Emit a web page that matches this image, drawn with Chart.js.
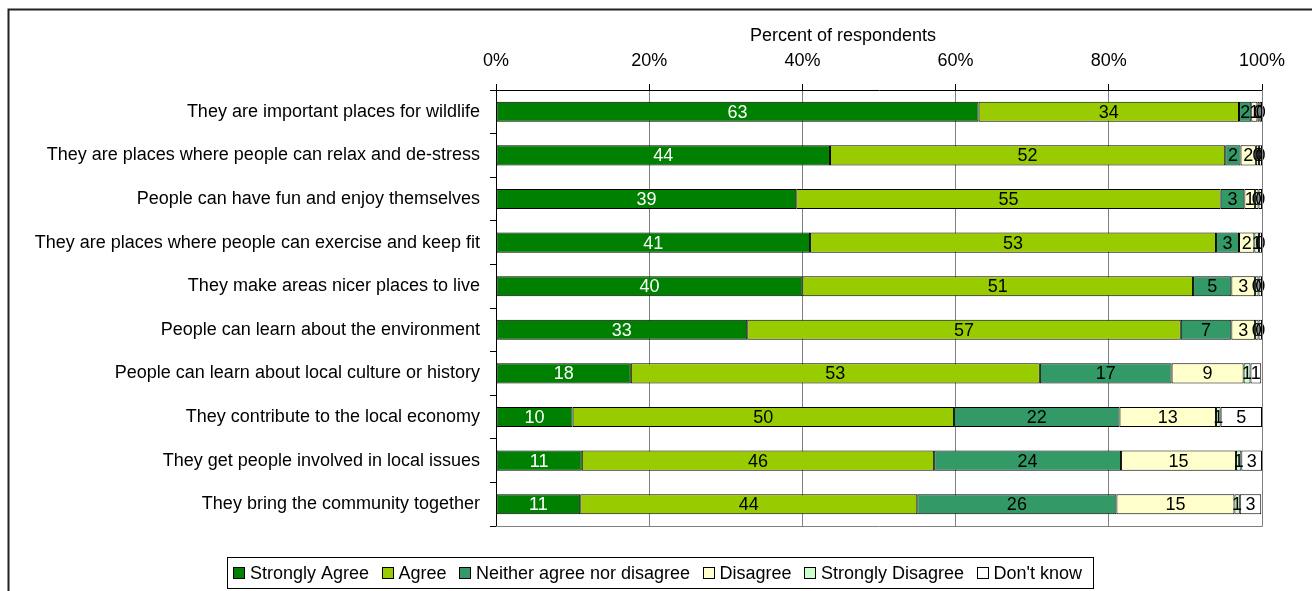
<!DOCTYPE html>
<html>
<head>
<meta charset="utf-8">
<script src="https://cdn.jsdelivr.net/npm/chart.js"></script>
<style>
  html, body { margin: 0; padding: 0; background: #fff; }
  #wrap { width: 1312px; height: 591px; }
</style>
</head>
<body>
<div id="wrap"><canvas id="chart" width="1312" height="591"></canvas></div>
<script>
// Statements (rows, top to bottom)
const statements = [
    'They are important places for wildlife',
    'They are places where people can relax and de-stress',
    'People can have fun and enjoy themselves',
    'They are places where people can exercise and keep fit',
    'They make areas nicer places to live',
    'People can learn about the environment',
    'People can learn about local culture or history',
    'They contribute to the local economy',
    'They get people involved in local issues',
    'They bring the community together'
];

// Percent of respondents per answer
const stronglyAgree    = [63, 43.6, 39.2, 41, 40, 32.8, 17.6, 10, 11.2, 11];
const agree            = [34, 51.6, 55.4, 53, 51, 56.6, 53.4, 49.8, 46, 44];
const neither          = [1.6, 2, 3.1, 3, 5, 6.6, 17.2, 21.6, 24.4, 26];
const disagree         = [0.8, 2, 1.4, 2, 3.1, 3.1, 9.4, 12.6, 15, 15.4];
const stronglyDisagree = [0.3, 0.4, 0.45, 0.6, 0.45, 0.45, 0.9, 0.6, 0.7, 0.7];
const dontKnow         = [0.3, 0.4, 0.45, 0.4, 0.45, 0.45, 1.4, 5.4, 2.7, 2.8];

const xTicks = [0, 20, 40, 60, 80, 100];
const axisTitle = 'Percent of respondents';

const FONT = 'Liberation Sans, Arial, sans-serif';
const SIZE = 18;

// Bar value labels, centred on each segment
const valueLabels = {
    id: 'valueLabels',
    afterDatasetsDraw(chart) {
        const ctx = chart.ctx;
        ctx.save();
        ctx.font = SIZE + 'px ' + FONT;
        ctx.textAlign = 'center';
        ctx.textBaseline = 'middle';
        chart.data.datasets.forEach((ds, i) => {
            const meta = chart.getDatasetMeta(i);
            ctx.fillStyle = i === 0 ? '#fff' : '#000';
            meta.data.forEach((bar, j) => {
                const x = (bar.x + bar.base) / 2;
                ctx.fillText(String(Math.round(ds.data[j])), x, bar.y + 1);
            });
        });
        ctx.restore();
    }
};

// Outer frame, axis title, plot border and the boxed legend
const frame = {
    id: 'frame',
    beforeDraw(chart) {
        const ctx = chart.ctx;
        ctx.save();
        ctx.fillStyle = '#fff';
        ctx.fillRect(0, 0, chart.width, chart.height);
        ctx.restore();
    },
    afterDraw(chart) {
        const ctx = chart.ctx;
        const a = chart.chartArea;
        ctx.save();
        // plot area right / bottom edge
        ctx.strokeStyle = '#808080';
        ctx.lineWidth = 1;
        ctx.beginPath();
        ctx.moveTo(Math.round(a.right) + 0.5, a.top);
        ctx.lineTo(Math.round(a.right) + 0.5, Math.round(a.bottom) + 0.5);
        ctx.lineTo(a.left, Math.round(a.bottom) + 0.5);
        ctx.stroke();

        // outer frame
        ctx.strokeStyle = '#222';
        ctx.lineWidth = 2;
        ctx.beginPath();
        ctx.moveTo(chart.width, 9.5);
        ctx.lineTo(8.5, 9.5);
        ctx.lineTo(8.5, chart.height);
        ctx.stroke();

        ctx.font = SIZE + 'px ' + FONT;
        ctx.textBaseline = 'middle';

        // axis title (Excel puts it a bit left of the plot centre)
        ctx.fillStyle = '#000';
        ctx.textAlign = 'center';
        ctx.fillText(axisTitle, 843, 36);

        // legend
        ctx.textAlign = 'left';
        const items = chart.data.datasets.map(ds => ({
            text: ds.label, color: ds.backgroundColor, w: ctx.measureText(ds.label).width
        }));
        const box = 11, gap = 6;
        const left = 233, right = 1082, cy = 573;
        let used = 0;
        items.forEach(it => { used += box + gap + it.w; });
        const itemGap = (right - left - used) / (items.length - 1);
        let x = left;
        ctx.lineWidth = 1;
        ctx.strokeStyle = '#000';
        ctx.strokeRect(227.5, 557.5, 866, 31);
        items.forEach(it => {
            const bx = Math.round(x) + 0.5, by = cy - 6 + 0.5;
            ctx.fillStyle = it.color;
            ctx.fillRect(bx, by, box, box);
            ctx.strokeRect(bx, by, box, box);
            ctx.fillStyle = '#000';
            ctx.fillText(it.text, x + box + gap, cy + 1);
            x += box + gap + it.w + itemGap;
        });
        ctx.restore();
    }
};

function series(label, data, color) {
    return {
        label: label,
        data: data,
        backgroundColor: color,
        borderColor: '#000',
        borderWidth: 1,
        borderSkipped: false,
        barPercentage: 0.46,
        categoryPercentage: 1
    };
}

new Chart(document.getElementById('chart'), {
    type: 'bar',
    data: {
        labels: statements,
        datasets: [
            series('Strongly Agree', stronglyAgree, '#008000'),
            series('Agree', agree, '#99CC00'),
            series('Neither agree nor disagree', neither, '#339966'),
            series('Disagree', disagree, '#FFFFCC'),
            series('Strongly Disagree', stronglyDisagree, '#CCFFCC'),
            series("Don't know", dontKnow, '#FFFFFF')
        ]
    },
    options: {
        indexAxis: 'y',
        responsive: false,
        animation: false,
        layout: { padding: { top: 20, left: 0, right: 50, bottom: 65 } },
        plugins: {
            legend: { display: false },
            tooltip: { enabled: false }
        },
        scales: {
            x: {
                position: 'top',
                stacked: true,
                min: 0,
                max: 100,
                afterBuildTicks: scale => { scale.ticks = xTicks.map(v => ({ value: v })); },
                afterFit: scale => { scale.height = 70; },
                ticks: {
                    callback: v => v + '%',
                    color: '#000',
                    font: { family: FONT, size: SIZE },
                    padding: 12,
                    maxRotation: 0
                },
                grid: { color: '#808080', tickColor: '#000', tickLength: 6 },
                border: { color: '#000' }
            },
            y: {
                stacked: true,
                afterFit: scale => { scale.width = 496; },
                ticks: {
                    color: '#000',
                    font: { family: FONT, size: SIZE },
                    padding: 10,
                    autoSkip: false
                },
                grid: { drawOnChartArea: false, offset: true, color: '#000', tickLength: 6 },
                border: { color: '#000' }
            }
        }
    },
    plugins: [frame, valueLabels]
});
</script>
</body>
</html>
